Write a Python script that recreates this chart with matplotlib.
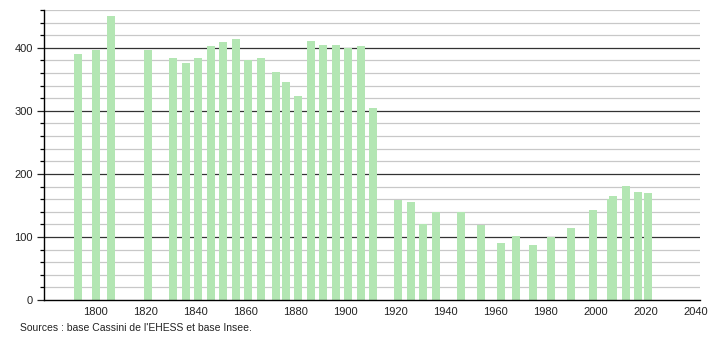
import matplotlib
matplotlib.use("Agg")
import matplotlib.pyplot as plt
from matplotlib.ticker import MultipleLocator

plt.rcParams['font.family'] = ['Liberation Sans', 'DejaVu Sans']

years = [1793, 1800, 1806, 1821, 1831, 1836, 1841, 1846, 1851, 1856,
         1861, 1866, 1872, 1876, 1881, 1886, 1891, 1896, 1901, 1906,
         1911, 1921, 1926, 1931, 1936, 1946, 1954, 1962, 1968, 1975,
         1982, 1990, 1999, 2006, 2007, 2012, 2017, 2021]
population = [390, 397, 450, 397, 384, 376, 384, 403, 410, 414,
              381, 384, 362, 346, 324, 411, 405, 405, 400, 403,
              305, 159, 156, 121, 140, 140, 119, 91, 102, 87,
              100, 114, 143, 161, 165, 181, 171, 170]
xticks = [1800, 1820, 1840, 1860, 1880, 1900, 1920, 1940, 1960, 1980, 2000, 2020, 2040]
yticks = [0, 100, 200, 300, 400]
source = "Sources : base Cassini de l'EHESS et base Insee."

fig = plt.figure(figsize=(7.1, 3.4), dpi=100)
ax = fig.add_axes([44/710, 40/340, 656/710, 290/340])

ax.set_xlim(1779.4, 2041.8)
ax.set_ylim(0, 460)

for v in range(20, 461, 20):
    if v % 100 == 0:
        ax.axhline(v, color='#333333', lw=0.9, zorder=1)
    else:
        ax.axhline(v, color='#c8c8c8', lw=0.9, zorder=1)

ax.bar(years, population, width=3.2, color='#b3e6b3', zorder=2)

ax.set_xticks(xticks)
ax.set_yticks(yticks)
ax.yaxis.set_minor_locator(MultipleLocator(20))
ax.tick_params(axis='both', labelsize=8, colors='#222222')
ax.tick_params(axis='x', length=0, pad=5)
ax.tick_params(axis='y', which='major', length=5, width=0.9, pad=3)
ax.tick_params(axis='y', which='minor', length=3, width=0.9)

for s in ['top', 'right']:
    ax.spines[s].set_visible(False)
for s in ['left', 'bottom']:
    ax.spines[s].set_color('black')
    ax.spines[s].set_linewidth(1)

fig.text(20/710, 1 - 328/340, source, fontsize=7.5, va='center', ha='left', color='#222222')

fig.savefig('out.png', dpi=100)
